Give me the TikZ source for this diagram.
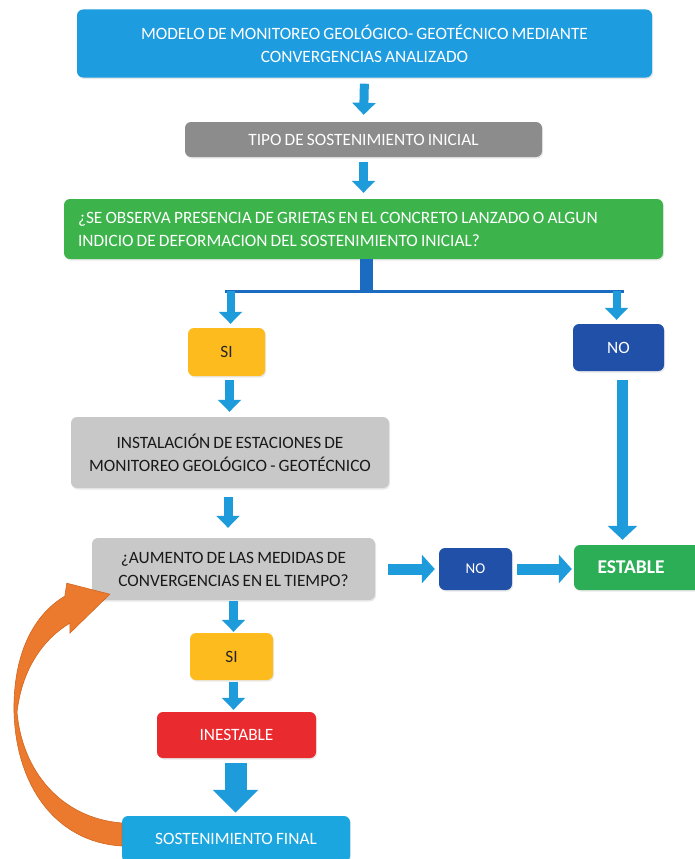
\documentclass[tikz,border=0pt]{standalone}
\usepackage{fontspec}
\setmainfont{Carlito}[WordSpace=0.8]
\usetikzlibrary{arrows.meta}
\usetikzlibrary{shadows, calc}
\definecolor{azul}{HTML}{1E9CE0}
\definecolor{celeste}{HTML}{1CA6E0}
\definecolor{grisosc}{HTML}{8C8C8C}
\definecolor{grisclaro}{HTML}{C8C8C8}
\definecolor{verde}{HTML}{3CB44B}
\definecolor{verdeest}{HTML}{2BAE55}
\definecolor{amarillo}{HTML}{FDBB1E}
\definecolor{marino}{HTML}{2150A8}
\definecolor{rojo}{HTML}{E92A2F}
\definecolor{flechaazul}{HTML}{1E9BDA}
\definecolor{barraazul}{HTML}{1B6CC0}
\definecolor{naranja}{HTML}{EB7A2E}
\definecolor{naranjaosc}{HTML}{D2651E}

\begin{document}
\begin{tikzpicture}[x=1pt, y=-1pt,
				   caja/.style={rectangle, rounded corners=6pt, inner sep=0pt, align=center, text=white,
				   		font=\fontsize{17.3}{23}\selectfont,
				   		drop shadow={opacity=0.18, shadow xshift=1pt, shadow yshift=-1.5pt}},
				   flecha/.style={draw=flechaazul, line width=9pt, -{Triangle[width=23pt, length=12pt]}},
				   flechah/.style={draw=flechaazul, line width=11pt, -{Triangle[width=28pt, length=13pt]}}]
\useasboundingbox (0,0) rectangle (695,859);
\clip (0,0) rectangle (695,859);

\node[caja, fill=azul, minimum width=575pt, minimum height=68pt] (modelo) at (364.5,43.5)
	{MODELO DE MONITOREO GEOLÓGICO- GEOTÉCNICO MEDIANTE\\CONVERGENCIAS ANALIZADO};
\node[caja, fill=grisosc, minimum width=357pt, minimum height=35pt] (tipo) at (363.5,139.5)
	{TIPO DE SOSTENIMIENTO INICIAL};
\node[caja, fill=verde, font=\fontsize{17.3}{23}\selectfont, text width=571pt, align=flush left, inner xsep=14pt, minimum height=60pt] (grietas) at (363.5,229)
	{¿SE OBSERVA PRESENCIA DE GRIETAS EN EL CONCRETO LANZADO O ALGUN\\INDICIO DE DEFORMACION DEL SOSTENIMIENTO INICIAL?};
\node[caja, fill=amarillo, text=black!85, minimum width=77pt, minimum height=48pt] (si1) at (226.5,352) {SI};
\node[caja, fill=marino, minimum width=91pt, minimum height=47pt] (no1) at (618.5,347.5) {NO};
\node[caja, fill=grisclaro, text=black!90, minimum width=318pt, minimum height=71pt] (instalacion) at (230,452.5)
	{INSTALACIÓN DE ESTACIONES DE\\MONITOREO GEOLÓGICO - GEOTÉCNICO};
\node[caja, fill=grisclaro, text=black!90, minimum width=283pt, minimum height=62pt] (aumento) at (233.5,569)
	{¿AUMENTO DE LAS MEDIDAS DE\\CONVERGENCIAS EN EL TIEMPO?};
\node[caja, fill=marino, font=\fontsize{15}{18}\selectfont, minimum width=73pt, minimum height=42pt] (no2) at (475.5,569) {NO};
\node[caja, fill=verdeest, font=\fontsize{19.5}{22}\selectfont\bfseries, minimum width=136pt, minimum height=45pt] (estable) at (642,567.5)
	{\hspace*{-22pt}ESTABLE};
\node[caja, fill=amarillo, text=black!85, minimum width=83pt, minimum height=47pt] (si2) at (231.5,656.5) {SI};
\node[caja, fill=rojo, minimum width=159pt, minimum height=46pt] (inestable) at (236.5,735) {INESTABLE};
\node[caja, fill=celeste, minimum width=228pt, minimum height=46pt] (final) at (236,839) {SOSTENIMIENTO FINAL};

\draw[flecha, shorten <=6pt, shorten >=7pt] (modelo.south) -- (tipo.north);
\draw[flecha, shorten <=5pt, shorten >=6pt] (tipo.south) -- (grietas.north);

\coordinate (bif) at (366.5,291);
\draw[draw=barraazul, line width=13pt] ([xshift=3pt]grietas.south) -- ([yshift=-1.5pt]bif);
\draw[draw=barraazul, line width=3pt] ([xshift=-2pt]si1.north |- bif) -- ([xshift=5pt]no1.north |- bif);
\draw[flecha, line width=8pt, shorten >=4pt] ([xshift=4pt]si1.north |- bif) -- ([xshift=4pt]si1.north);
\draw[flecha, line width=8pt, shorten >=4pt] ([xshift=-2pt]no1.north |- bif) -- ([xshift=-2pt]no1.north);

\draw[flecha, shorten <=4pt, shorten >=5pt] ([xshift=3pt]si1.south) -- ([xshift=3pt]si1.south |- instalacion.north);
\draw[flecha, shorten <=9pt, shorten >=10pt] ([xshift=-2pt]instalacion.south) -- ([xshift=-2pt]instalacion.south |- aumento.north);
\draw[flechah, -{Triangle[width=29pt, length=14pt]}, shorten <=9pt, shorten >=5pt] ([xshift=4pt]no1.south) -- ([xshift=4pt]no1.south |- estable.north);
\draw[flechah, shorten <=13pt, shorten >=4pt] (aumento.east |- no2.west) -- (no2.west);
\draw[flechah, shorten <=5pt, shorten >=2pt] (no2.east) -- (no2.east -| estable.west);
\draw[flecha, shorten <=1pt, shorten >=1pt] (aumento.south) -- (aumento.south |- si2.north);
\draw[flecha, shorten <=2pt, shorten >=2pt] ([xshift=2pt]si2.south) -- ([xshift=2pt]si2.south |- inestable.north);
\draw[flecha, line width=22pt, -{Triangle[width=44pt, length=23pt]}, shorten <=5pt, shorten >=3pt] ([xshift=-1pt]inestable.south) -- ([xshift=-1pt]inestable.south |- final.north);

\filldraw[fill=naranja, draw=naranjaosc, line width=0.6pt]
	($(final.west)+(0,7)$) .. controls (55,842) and (16,785) .. (14,712)
	.. controls (13,655) and (33,615) .. ($(aumento.south west)+(-27,-4)$)
	-- ($(aumento.south west)+(-25,-17)$) -- ($(aumento.south west)+(18,-6)$)
	-- ($(aumento.south west)+(-22,33)$) -- ($(aumento.south west)+(-22,23)$)
	.. controls (42,640) and (22,670) .. (17,712)
	.. controls (22,770) and (60,818) .. ($(final.west)+(0,-16)$) -- cycle;
\end{tikzpicture}
\end{document}
